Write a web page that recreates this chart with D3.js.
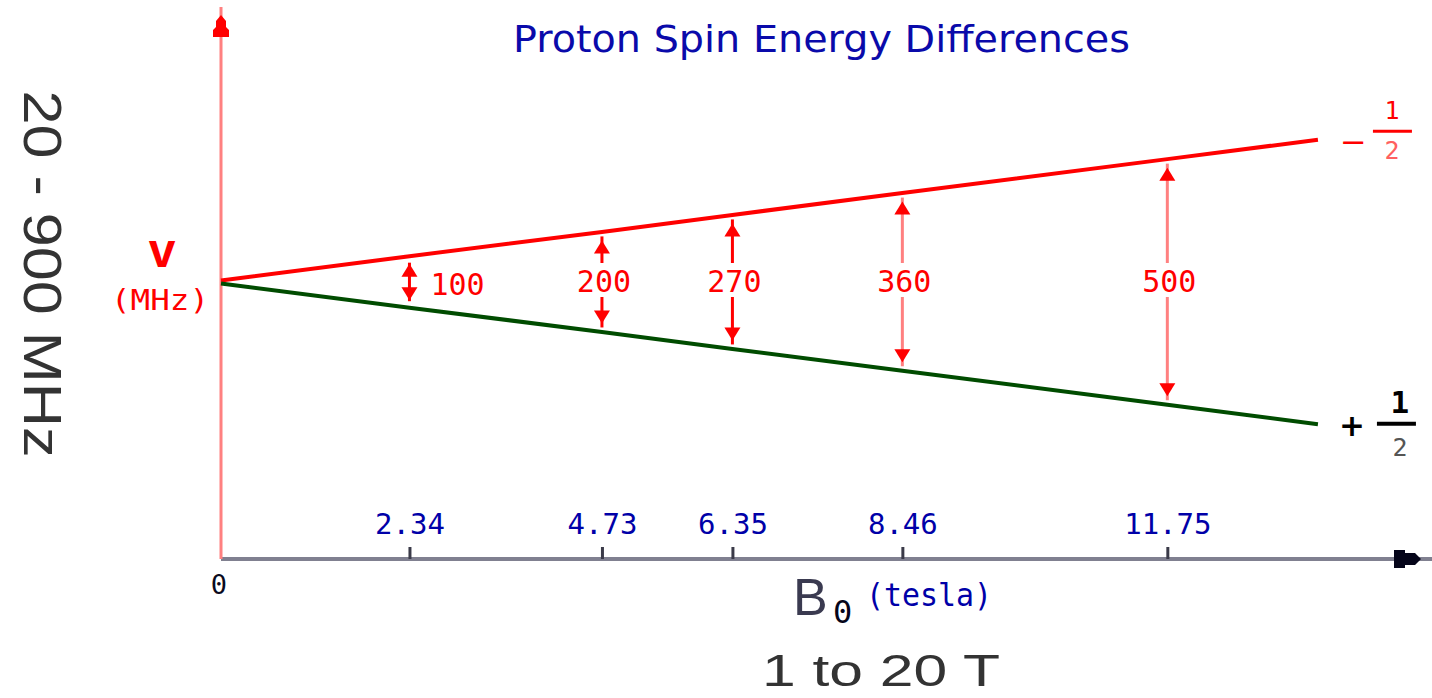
<!DOCTYPE html>
<html>
<head>
<meta charset="utf-8">
<script src="https://cdn.jsdelivr.net/npm/d3@7"></script>
<style>
  body { margin: 0; background: #fff; }
  svg { display: block; }
</style>
</head>
<body>
<div id="chart"></div>
<script>
// field strengths (tesla) and proton resonance frequencies (MHz)
const bField = [2.34, 4.73, 6.35, 8.46, 11.75];
const freqs = [100, 200, 270, 360, 500];
const tickLabels = ['2.34', '4.73', '6.35', '8.46', '11.75'];
// the two spin-state lines, drawn as +/- half the frequency
const lineB = [0, 2.34, 4.73, 6.35, 8.46, 11.75, 13.62];
const lineFreq = [0, 100, 200, 270, 360, 500, 580];

draw();

function draw() {
    const width = 1432;
    const height = 698;

    const svg = d3.select('#chart')
        .append('svg')
            .attr('width', width)
            .attr('height', height)
            .attr('viewBox', [0, 0, width, height]);

    // scales
    const x = d3.scaleLinear()
        .domain([0, 14.85])
        .range([221, 1417]);
    const y = d3.scaleLinear()
        .domain([-571, 546])
        .range([559, 17]);

    const mono = 'DejaVu Sans Mono, monospace';
    const sans = 'Liberation Sans, Arial, sans-serif';

    // title
    svg.append('text')
        .attr('x', 513)
        .attr('y', 52)
        .attr('textLength', 617)
        .attr('lengthAdjust', 'spacingAndGlyphs')
        .style('font-family', 'DejaVu Sans, sans-serif')
        .style('font-size', '38px')
        .attr('fill', '#0a0aaa')
        .text('Proton Spin Energy Differences');

    //
    // AXES
    //
    // x axis (gray) with black arrow
    svg.append('line')
        .attr('x1', x(0)).attr('x2', width)
        .attr('y1', y(-571)).attr('y2', y(-571))
        .attr('stroke', '#808090')
        .attr('stroke-width', 4);
    svg.append('path')
        .attr('d', `M${x(14.85) - 23},${y(-571) - 9} h11 v3 h10 l6,6 l-6,6 h-10 v3 h-11 z`)
        .attr('fill', '#05051a');

    const xAxis = d3.axisTop(x)
        .tickValues(bField)
        .tickSize(12)
        .tickFormat((d, i) => tickLabels[i]);
    const gx = svg.append('g')
        .attr('transform', `translate(0,${y(-571)})`)
        .call(xAxis);
    gx.select('.domain').remove();
    gx.selectAll('.tick line')
        .attr('stroke', '#3a3a48')
        .attr('stroke-width', 3);
    gx.selectAll('.tick text')
        .attr('y', -25)
        .attr('fill', '#0000a8')
        .style('font-family', mono)
        .style('font-size', '29px');

    // origin label
    svg.append('text')
        .attr('x', x(0) - 2)
        .attr('y', 594)
        .attr('text-anchor', 'middle')
        .attr('fill', '#0a0a20')
        .style('font-family', mono)
        .style('font-size', '27px')
        .text('0');

    // y axis (pink) with red arrow
    svg.append('line')
        .attr('x1', x(0)).attr('x2', x(0))
        .attr('y1', 7).attr('y2', y(-571))
        .attr('stroke', '#ff8080')
        .attr('stroke-width', 3);
    svg.append('path')
        .attr('d', `M${x(0)},15 l5,6 v6 l3,3 v7 h-16 v-7 l3,-3 v-6 z`)
        .attr('fill', '#ff0000');

    // axis labels
    svg.append('text')
        .attr('transform', 'translate(24,274) rotate(90)')
        .attr('text-anchor', 'middle')
        .attr('textLength', 367)
        .attr('lengthAdjust', 'spacingAndGlyphs')
        .attr('fill', '#333')
        .style('font-family', sans)
        .style('font-size', '54px')
        .text('20 - 900 MHz');

    svg.append('text')
        .attr('x', 162)
        .attr('y', 267)
        .attr('text-anchor', 'middle')
        .attr('fill', '#ff0000')
        .style('font-family', sans)
        .style('font-weight', 'bold')
        .style('font-size', '48px')
        .text('v');
    svg.append('text')
        .attr('x', 111)
        .attr('y', 310)
        .attr('textLength', 98)
        .attr('lengthAdjust', 'spacingAndGlyphs')
        .attr('fill', '#ff0000')
        .style('font-family', mono)
        .style('font-size', '29px')
        .text('(MHz)');

    svg.append('text')
        .attr('x', 793)
        .attr('y', 615)
        .attr('fill', '#3a3a50')
        .style('font-family', sans)
        .style('font-size', '52px')
        .text('B');
    svg.append('text')
        .attr('x', 833)
        .attr('y', 623)
        .attr('fill', '#05051a')
        .style('font-family', mono)
        .style('font-size', '32px')
        .text('0');
    svg.append('text')
        .attr('x', 866)
        .attr('y', 606)
        .attr('textLength', 126)
        .attr('lengthAdjust', 'spacingAndGlyphs')
        .attr('fill', '#0000a8')
        .style('font-family', mono)
        .style('font-size', '32px')
        .text('(tesla)');

    svg.append('text')
        .attr('x', 762)
        .attr('y', 686)
        .attr('textLength', 238)
        .attr('lengthAdjust', 'spacingAndGlyphs')
        .attr('fill', '#333')
        .style('font-family', sans)
        .style('font-size', '44px')
        .text('1 to 20 T');

    //
    // SPIN LINES
    //
    const upper = d3.line()
        .x((d, i) => x(lineB[i]))
        .y(d => y(d / 2));
    const lower = d3.line()
        .x((d, i) => x(lineB[i]))
        .y(d => y(-d / 2));

    svg.append('path')
        .datum(lineFreq)
        .attr('fill', 'none')
        .attr('stroke', '#ff0000')
        .attr('stroke-width', 4)
        .attr('d', upper)
        .attr('transform', 'translate(0,-1.5)');
    svg.append('path')
        .datum(lineFreq)
        .attr('fill', 'none')
        .attr('stroke', '#004c00')
        .attr('stroke-width', 4)
        .attr('d', lower)
        .attr('transform', 'translate(0,1.5)');

    // spin state labels
    const last = lineFreq.length - 1;
    const xEnd = x(lineB[last]);
    const yUp = y(lineFreq[last] / 2);
    const yLo = y(-lineFreq[last] / 2);

    svg.append('text')
        .attr('x', xEnd + 22).attr('y', yUp + 12)
        .attr('fill', '#ff0000')
        .style('font-family', 'DejaVu Sans, sans-serif')
        .style('font-size', '32px')
        .text('\u2212');
    svg.append('line')
        .attr('x1', xEnd + 55).attr('x2', xEnd + 94)
        .attr('y1', yUp - 10).attr('y2', yUp - 10)
        .attr('stroke', '#ff0000').attr('stroke-width', 3);
    svg.append('text')
        .attr('x', xEnd + 74).attr('y', yUp - 22)
        .attr('text-anchor', 'middle')
        .attr('fill', '#ff0000')
        .style('font-family', mono)
        .style('font-size', '25px')
        .text('1');
    svg.append('text')
        .attr('x', xEnd + 74).attr('y', yUp + 18)
        .attr('text-anchor', 'middle')
        .attr('fill', '#ff6060')
        .style('font-family', mono)
        .style('font-size', '25px')
        .text('2');

    svg.append('text')
        .attr('x', xEnd + 21).attr('y', yLo + 13)
        .attr('fill', '#000')
        .style('font-family', 'DejaVu Sans, sans-serif')
        .style('font-weight', 'bold')
        .style('font-size', '31px')
        .text('+');
    svg.append('line')
        .attr('x1', xEnd + 59).attr('x2', xEnd + 98)
        .attr('y1', yLo + 1).attr('y2', yLo + 1)
        .attr('stroke', '#000').attr('stroke-width', 4);
    svg.append('text')
        .attr('x', xEnd + 82).attr('y', yLo - 10)
        .attr('text-anchor', 'middle')
        .attr('fill', '#000')
        .style('font-family', mono)
        .style('font-weight', 'bold')
        .style('font-size', '31px')
        .text('1');
    svg.append('text')
        .attr('x', xEnd + 82).attr('y', yLo + 33)
        .attr('text-anchor', 'middle')
        .attr('fill', '#555')
        .style('font-family', mono)
        .style('font-size', '25px')
        .text('2');

    //
    // ENERGY GAP ARROWS
    //
    const headUp = (cx, tip) => `M${cx},${tip} l8,13 h-16 z`;
    const headDown = (cx, tip) => `M${cx},${tip} l8,-13 h-16 z`;
    const stemColors = ['#ff0000', '#ff0000', '#ff0000', '#ff8080', '#ff8080'];

    const arrows = svg.append('g');
    bField.forEach((b, i) => {
        const cx = x(b);
        const top = y(freqs[i] / 2) + 3;
        const bot = y(-freqs[i] / 2) - 3;
        const g = arrows.append('g');
        if (bot - top < 70) {
            // gap too small: double arrow with label beside it
            g.append('line')
                .attr('x1', cx).attr('x2', cx)
                .attr('y1', top + 2).attr('y2', bot - 2)
                .attr('stroke', stemColors[i]).attr('stroke-width', 3);
            g.append('path').attr('d', headUp(cx, top + 3)).attr('fill', '#ff0000');
            g.append('path').attr('d', headDown(cx, bot - 3)).attr('fill', '#ff0000');
            g.append('text')
                .attr('x', cx + 21).attr('y', 295)
                .attr('fill', '#ff0000')
                .style('font-family', mono)
                .style('font-size', '30px')
                .text(freqs[i]);
        } else {
            g.append('line')
                .attr('x1', cx).attr('x2', cx)
                .attr('y1', top).attr('y2', 263)
                .attr('stroke', stemColors[i]).attr('stroke-width', 3);
            g.append('line')
                .attr('x1', cx).attr('x2', cx)
                .attr('y1', 297).attr('y2', bot)
                .attr('stroke', stemColors[i]).attr('stroke-width', 3);
            g.append('path').attr('d', headUp(cx, top + 4)).attr('fill', '#ff0000');
            g.append('path').attr('d', headDown(cx, bot - 4)).attr('fill', '#ff0000');
            g.append('text')
                .attr('x', cx + 2).attr('y', 292)
                .attr('text-anchor', 'middle')
                .attr('fill', '#ff0000')
                .style('font-family', mono)
                .style('font-size', '30px')
                .text(freqs[i]);
        }
    });
}
</script>
</body>
</html>
